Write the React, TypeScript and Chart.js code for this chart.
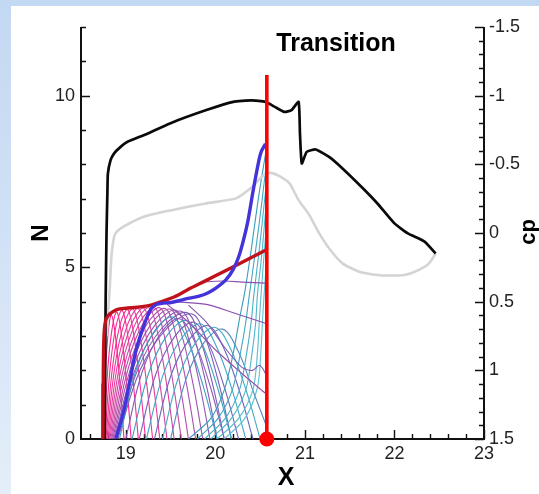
import React, { useEffect, useRef } from "react";
import { Chart, registerables } from "chart.js";
Chart.register(...registerables);

type P = [number, number];

// ---- tick labels ----
const xTickValues = [19, 20, 21, 22, 23];
const nTickValues = [0, 5, 10];
const cpTickValues = [-1.5, -1, -0.5, 0, 0.5, 1, 1.5];

// ---- pressure coefficient (right axis) ----
const cpUpper: P[] = [
  [18.765, 1.5], [18.775, 0.5], [18.785, 0.0], [18.795, -0.3], [18.8, -0.43], [18.83, -0.53],
  [18.87, -0.58], [18.93, -0.62], [19.02, -0.664], [19.2, -0.712], [19.5, -0.8], [19.9, -0.895],
  [20.2, -0.955], [20.4, -0.965], [20.56, -0.955], [20.66, -0.92], [20.77, -0.882], [20.85, -0.894],
  [20.93, -0.955], [20.945, -0.724], [20.965, -0.506], [21.02, -0.591], [21.12, -0.608],
  [21.27, -0.554], [21.42, -0.47], [21.65, -0.324], [21.81, -0.215], [22.0, -0.07], [22.15, 0.003],
  [22.34, 0.064], [22.46, 0.149],
];
const cpLower: P[] = [
  [22.46, 0.149], [22.4, 0.21], [22.34, 0.245], [22.2, 0.29], [22.11, 0.306], [21.95, 0.31],
  [21.81, 0.306], [21.6, 0.28], [21.42, 0.221], [21.28, 0.12], [21.16, 0.003], [21.05, -0.13],
  [20.93, -0.239], [20.83, -0.36], [20.73, -0.409], [20.62, -0.438], [20.55, -0.425], [20.5, -0.397],
  [20.39, -0.324], [20.23, -0.252], [19.89, -0.215], [19.51, -0.166], [19.2, -0.118], [18.97, -0.045],
  [18.9, -0.01], [18.87, 0.027], [18.84, 0.17], [18.82, 0.415], [18.8, 0.6], [18.79, 0.75],
];

// ---- N factor envelopes (left axis) ----
const stationaryEnvelope: P[] = [
  [18.745, 0], [18.748, 1.5], [18.752, 2.6], [18.76, 3.15], [18.775, 3.45], [18.8, 3.58], [18.84, 3.68],
  [18.9, 3.77], [19.0, 3.81], [19.13, 3.84], [19.28, 3.9], [19.4, 4.0], [19.55, 4.15], [19.7, 4.36],
  [19.9, 4.62], [20.08, 4.86], [20.3, 5.15], [20.56, 5.5],
];
const travelingEnvelope: P[] = [
  [18.89, 0], [18.91, 0.2], [18.95, 0.55], [18.985, 0.9], [19.04, 1.62], [19.115, 2.59], [19.21, 3.36],
  [19.28, 3.78], [19.34, 3.92], [19.42, 3.96], [19.49, 3.97], [19.58, 4.02], [19.67, 4.08], [19.82, 4.16],
  [19.92, 4.26], [20.01, 4.4], [20.12, 4.64], [20.2, 4.94], [20.26, 5.3], [20.31, 5.75], [20.36, 6.3],
  [20.42, 7.2], [20.47, 7.9], [20.51, 8.35], [20.56, 8.6],
];
const leadingBundle: P[] = [[18.749, 0], [18.751, 1.62]];

// ---- individual mode N curves ----
const stationaryModes: P[][] = [
  [[18.745, 0], [18.774, 1.99], [18.807, 3.19], [18.84, 3.62], [18.889, 2.9], [18.938, 1.52], [18.98, 0]],
  [[18.756, 0], [18.799, 2.04], [18.85, 3.26], [18.9, 3.7], [18.956, 2.96], [19.012, 1.55], [19.06, 0]],
  [[18.767, 0], [18.825, 2.06], [18.892, 3.3], [18.96, 3.75], [19.023, 3.0], [19.086, 1.58], [19.14, 0]],
  [[18.778, 0], [18.851, 2.07], [18.935, 3.32], [19.02, 3.77], [19.09, 3.02], [19.16, 1.58], [19.22, 0]],
  [[18.789, 0], [18.876, 2.08], [18.978, 3.34], [19.08, 3.79], [19.157, 3.03], [19.234, 1.59], [19.3, 0]],
  [[18.8, 0], [18.902, 2.09], [19.021, 3.34], [19.14, 3.8], [19.224, 3.04], [19.308, 1.6], [19.38, 0]],
  [[18.811, 0], [18.928, 2.1], [19.064, 3.35], [19.2, 3.81], [19.291, 3.05], [19.382, 1.6], [19.46, 0]],
  [[18.822, 0], [18.953, 2.1], [19.107, 3.36], [19.26, 3.82], [19.358, 3.06], [19.456, 1.6], [19.54, 0]],
  [[18.833, 0], [18.979, 2.1], [19.15, 3.36], [19.32, 3.82], [19.425, 3.06], [19.53, 1.6], [19.62, 0]],
  [[18.844, 0], [19.005, 2.1], [19.192, 3.36], [19.38, 3.82], [19.492, 3.06], [19.604, 1.6], [19.7, 0]],
  [[18.855, 0], [19.031, 2.09], [19.235, 3.34], [19.44, 3.8], [19.559, 3.04], [19.678, 1.6], [19.78, 0]],
  [[18.866, 0], [19.056, 2.08], [19.278, 3.33], [19.5, 3.78], [19.626, 3.02], [19.752, 1.59], [19.86, 0]],
  [[18.877, 0], [19.082, 2.06], [19.321, 3.3], [19.56, 3.75], [19.693, 3.0], [19.826, 1.58], [19.94, 0]],
  [[18.888, 0], [19.108, 2.05], [19.364, 3.27], [19.62, 3.72], [19.76, 2.98], [19.9, 1.56], [20.02, 0]],
  [[18.899, 0], [19.133, 2.02], [19.407, 3.24], [19.68, 3.68], [19.827, 2.94], [19.974, 1.55], [20.1, 0]],
  [[18.91, 0], [19.159, 2.0], [19.45, 3.2], [19.74, 3.64], [19.894, 2.91], [20.048, 1.53], [20.18, 0]],
];
const midModes: P[][] = [
  [[18.93, 0], [19.107, 1.95], [19.314, 3.12], [19.52, 3.55], [19.695, 2.84], [19.87, 1.49], [20.02, 0]],
  [[19.0, 0], [19.18, 1.93], [19.39, 3.08], [19.6, 3.5], [19.775, 2.8], [19.95, 1.47], [20.1, 0]],
  [[19.07, 0], [19.253, 1.9], [19.467, 3.04], [19.68, 3.45], [19.855, 2.76], [20.03, 1.45], [20.18, 0]],
  [[19.15, 0], [19.333, 1.87], [19.547, 2.99], [19.76, 3.4], [19.935, 2.72], [20.11, 1.43], [20.26, 0]],
  [[19.23, 0], [19.413, 1.84], [19.627, 2.95], [19.84, 3.35], [20.015, 2.68], [20.19, 1.41], [20.34, 0]],
  [[19.32, 0], [19.5, 1.82], [19.71, 2.9], [19.92, 3.3], [20.095, 2.64], [20.27, 1.39], [20.42, 0]],
  [[19.41, 0], [19.587, 1.79], [19.794, 2.86], [20.0, 3.25], [20.175, 2.6], [20.35, 1.37], [20.5, 0]],
  [[19.5, 0], [19.674, 1.76], [19.877, 2.82], [20.08, 3.2], [20.255, 2.56], [20.43, 1.34], [20.56, 0.45]],
];
const travelingModes: P[][] = [
  [[19.7, 0], [19.95, 0.6], [20.1, 1.43], [20.2, 2.5], [20.27, 3.5], [20.33, 4.3], [20.4, 5.5], [20.48, 7.0], [20.56, 8.3]],
  [[19.8, 0], [20.03, 0.6], [20.19, 1.43], [20.28, 2.5], [20.34, 3.4], [20.38, 4.2], [20.45, 5.5], [20.51, 6.7], [20.56, 7.8]],
  [[19.88, 0], [20.11, 0.6], [20.27, 1.43], [20.35, 2.5], [20.4, 3.4], [20.43, 4.2], [20.49, 5.5], [20.56, 7.2]],
  [[19.95, 0], [20.18, 0.6], [20.34, 1.43], [20.41, 2.5], [20.45, 3.37], [20.47, 4.2], [20.52, 5.4], [20.56, 6.6]],
  [[20.02, 0], [20.26, 0.6], [20.42, 1.43], [20.47, 2.5], [20.49, 3.37], [20.51, 4.2], [20.56, 5.9]],
  [[20.1, 0], [20.33, 0.6], [20.47, 1.5], [20.51, 2.6], [20.53, 3.6], [20.56, 4.8]],
];
const decayingModes: P[][] = [
  [[19.9, 4.58], [20.1, 4.6], [20.3, 4.57], [20.56, 4.54]],
  [[19.54, 4.0], [19.9, 3.92], [20.2, 3.68], [20.56, 3.37]],
  [[19.7, 3.9], [19.91, 3.37], [20.1, 2.68], [20.29, 2.1], [20.38, 2.0], [20.43, 2.02], [20.49, 2.15], [20.53, 2.05], [20.56, 1.9]],
  [[19.45, 3.95], [19.7, 3.4], [20.0, 2.6], [20.3, 1.9], [20.56, 1.33]],
];

// ---- transition marker ----
const transitionLine: P[] = [[20.575, 0], [20.575, 10.6]];
const transitionPoint: P[] = [[20.575, 0]];

// ---- styles ----
const stationaryColors = [
  "#ff1f8e", "#fd2590", "#f92b93", "#f43196", "#ee3699", "#e63b9c", "#dd409f", "#d344a3",
  "#c848a6", "#bc4ca9", "#b04fac", "#a352ae", "#9755b0", "#8c57b2", "#825ab4", "#785cb6",
];
const midColors = ["#3c9fc0", "#8a5cb4", "#3aa5c2", "#7a60b8", "#40a8c4", "#6a66bc", "#45adc6", "#5a88c0"];
const travelingColors = ["#3a9cbc", "#42a6c4", "#48aec8", "#50b5cc", "#58bcd0", "#60c2d4"];
const decayingColors = ["#9050b0", "#8e4eb0", "#8656b2", "#9a50aa"];

const FONT = "'Liberation Sans', Arial, Helvetica, sans-serif";

function toXY(pts: P[]) {
  return pts.map(([x, y]) => ({ x, y }));
}

export default function App() {
  const ref = useRef<HTMLCanvasElement | null>(null);

  useEffect(() => {
    if (!ref.current) return;
    const layers: any[] = [];
    const line = (pts: P[], color: string, width: number, axis: string, tension: number) =>
      layers.push({
        data: toXY(pts),
        borderColor: color,
        borderWidth: width,
        yAxisID: axis,
        tension,
        pointRadius: 0,
        fill: false,
      });

    stationaryModes.forEach((c, i) => line(c, stationaryColors[i], 1.1, "y", 0.35));
    midModes.forEach((c, i) => line(c, midColors[i], 1.1, "y", 0.35));
    travelingModes.forEach((c, i) => line(c, travelingColors[i], 1.1, "y", 0.3));
    decayingModes.forEach((c, i) => line(c, decayingColors[i], 1.1, "y", 0.3));
    line(leadingBundle, "#ee1a66", 4.5, "y", 0);
    line(cpLower, "#d4d4d4", 2.6, "cp", 0.2);
    line(cpUpper, "#0a0a0a", 2.7, "cp", 0.15);
    line(stationaryEnvelope, "#c0121c", 3.4, "y", 0.3);
    line(travelingEnvelope, "#4333d8", 3.4, "y", 0.3);
    line(transitionLine, "#ff0000", 3.6, "y", 0);
    layers.push({
      data: toXY(transitionPoint),
      yAxisID: "y",
      showLine: false,
      pointRadius: 7.5,
      pointBackgroundColor: "#ff0000",
      pointBorderWidth: 0,
      clip: false,
    });
    const n = layers.length;
    layers.forEach((d, i) => (d.order = n - i));

    const frame = {
      id: "frame",
      beforeDatasetsDraw(chart: any) {
        const { ctx, chartArea: ca, scales } = chart;
        const xs = scales.x, ys = scales.y, cs = scales.cp;
        ctx.save();
        ctx.strokeStyle = "#111";
        ctx.lineWidth = 2;
        ctx.beginPath();
        ctx.moveTo(ca.left, ca.top);
        ctx.lineTo(ca.left, ca.bottom);
        ctx.lineTo(ca.right, ca.bottom);
        ctx.lineTo(ca.right, ca.top);
        ctx.stroke();
        ctx.lineWidth = 1.4;
        ctx.beginPath();
        for (let i = 0; i <= 22; i++) {
          const v = 18.6 + i * 0.2;
          const major = Math.abs(v - Math.round(v)) < 1e-6;
          const px = Math.round(xs.getPixelForValue(v)) + 0.5;
          ctx.moveTo(px, ca.bottom);
          ctx.lineTo(px, ca.bottom - (major ? 9 : 5));
        }
        for (let v = 1; v <= 12; v++) {
          const major = v % 5 === 0;
          const py = Math.round(ys.getPixelForValue(v)) + 0.5;
          ctx.moveTo(ca.left, py);
          ctx.lineTo(ca.left + (major ? 9 : 5), py);
        }
        for (let i = 0; i <= 30; i++) {
          const v = -1.5 + i * 0.1;
          const major = i % 5 === 0;
          const py = Math.round(cs.getPixelForValue(v)) + 0.5;
          ctx.moveTo(ca.right, py);
          ctx.lineTo(ca.right - (major ? 9 : 5), py);
        }
        ctx.stroke();
        ctx.restore();
      },
      afterDraw(chart: any) {
        const { ctx } = chart;
        ctx.save();
        ctx.fillStyle = "#000";
        ctx.textAlign = "center";
        ctx.textBaseline = "middle";
        ctx.font = `bold 25px ${FONT}`;
        ctx.fillText("Transition", 336, 44);
        ctx.font = `bold 25px ${FONT}`;
        ctx.fillText("X", 286, 478);
        ctx.save();
        ctx.translate(41, 233);
        ctx.rotate(-Math.PI / 2);
        ctx.font = `bold 24px ${FONT}`;
        ctx.fillText("N", 0, 0);
        ctx.restore();
        ctx.save();
        ctx.translate(529, 232);
        ctx.rotate(-Math.PI / 2);
        ctx.font = `bold 22px ${FONT}`;
        ctx.fillText("cp", 0, 0);
        ctx.restore();
        ctx.restore();
      },
    };

    const tickFont = { family: FONT, size: 18 };
    const noGrid = { display: false, drawTicks: false, tickLength: 0 };
    const chart = new Chart(ref.current, {
      type: "line",
      data: { datasets: layers },
      options: {
        responsive: false,
        devicePixelRatio: 1,
        animation: false,
        events: [],
        layout: { padding: { top: 27, left: 0, right: 0, bottom: 0 } },
        plugins: { legend: { display: false }, tooltip: { enabled: false } },
        scales: {
          x: {
            type: "linear",
            min: 18.5,
            max: 23,
            grid: noGrid,
            border: { display: false },
            ticks: { font: tickFont, color: "#222", padding: 4, maxRotation: 0, callback: (v: any) => String(v) },
            afterBuildTicks: (s: any) => {
              s.ticks = xTickValues.map((value) => ({ value }));
            },
            afterFit: (s: any) => {
              s.height = 55;
            },
          },
          y: {
            type: "linear",
            position: "left",
            min: 0,
            max: 12,
            grid: noGrid,
            border: { display: false },
            ticks: { font: tickFont, color: "#222", padding: 6, callback: (v: any) => String(v) },
            afterBuildTicks: (s: any) => {
              s.ticks = nTickValues.map((value) => ({ value }));
            },
            afterFit: (s: any) => {
              s.width = 81;
            },
          },
          cp: {
            type: "linear",
            position: "right",
            min: -1.5,
            max: 1.5,
            reverse: true,
            grid: noGrid,
            border: { display: false },
            ticks: { font: tickFont, color: "#222", padding: 5, callback: (v: any) => String(v) },
            afterBuildTicks: (s: any) => {
              s.ticks = cpTickValues.map((value) => ({ value }));
            },
            afterFit: (s: any) => {
              s.width = 55;
            },
          },
        },
      } as any,
      plugins: [frame],
    });
    return () => chart.destroy();
  }, []);

  return (
    <div
      style={{
        position: "fixed",
        left: 0,
        top: 0,
        width: 539,
        height: 494,
        overflow: "hidden",
        background: "linear-gradient(180deg, #c3d8f2 0%, #d4e3f6 55%, #e4eef9 100%)",
      }}
    >
      <div style={{ position: "absolute", left: 11, top: 6, right: 0, bottom: 0, background: "#ffffff" }} />
      <canvas
        ref={ref}
        width={539}
        height={494}
        style={{ position: "absolute", left: 0, top: 0, width: 539, height: 494 }}
      />
    </div>
  );
}
